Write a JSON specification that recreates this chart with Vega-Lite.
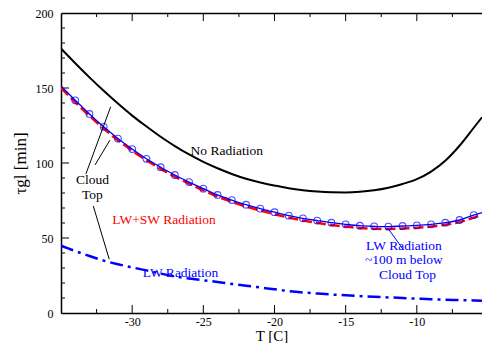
{
  "$schema": "https://vega.github.io/schema/vega-lite/v6.json",
  "autosize": {"type": "none"},
  "padding": {"left": 61, "top": 13, "right": 0, "bottom": 30},
  "width": 421,
  "height": 300,
  "background": "white",
  "config": {"view": {"stroke": null}, "font": "Liberation Serif", "axis": {"grid": false, "labelOverlap": false}},
  "datasets": {
    "curves": [
      {"s": "none", "T": -35, "v": 176.3}, {"s": "none", "T": -34, "v": 166.5}, {"s": "none", "T": -33, "v": 157.1}, {"s": "none", "T": -32, "v": 148.1}, {"s": "none", "T": -31, "v": 139.6}, {"s": "none", "T": -30, "v": 131.6}, {"s": "none", "T": -29, "v": 124.4}, {"s": "none", "T": -28, "v": 117.5}, {"s": "none", "T": -27, "v": 111.3}, {"s": "none", "T": -26, "v": 105.7}, {"s": "none", "T": -25, "v": 100.8}, {"s": "none", "T": -24, "v": 96.5}, {"s": "none", "T": -23, "v": 92.7}, {"s": "none", "T": -22, "v": 89.5}, {"s": "none", "T": -21, "v": 87.0}, {"s": "none", "T": -20, "v": 85.0}, {"s": "none", "T": -19, "v": 83.2}, {"s": "none", "T": -18, "v": 81.9}, {"s": "none", "T": -17, "v": 81.0}, {"s": "none", "T": -16, "v": 80.5}, {"s": "none", "T": -15, "v": 80.4}, {"s": "none", "T": -14, "v": 80.8}, {"s": "none", "T": -13, "v": 81.8}, {"s": "none", "T": -12, "v": 83.5}, {"s": "none", "T": -11, "v": 86.0}, {"s": "none", "T": -10, "v": 89.2}, {"s": "none", "T": -9, "v": 94.3}, {"s": "none", "T": -8, "v": 101.5}, {"s": "none", "T": -7, "v": 111.5}, {"s": "none", "T": -6, "v": 123.5}, {"s": "none", "T": -5.42, "v": 130.5},
      {"s": "lwsw", "T": -35, "v": 150.0}, {"s": "lwsw", "T": -34, "v": 140.5}, {"s": "lwsw", "T": -33, "v": 131.5}, {"s": "lwsw", "T": -32, "v": 123.0}, {"s": "lwsw", "T": -31, "v": 115.2}, {"s": "lwsw", "T": -30, "v": 108.2}, {"s": "lwsw", "T": -29, "v": 101.8}, {"s": "lwsw", "T": -28, "v": 96.1}, {"s": "lwsw", "T": -27, "v": 90.9}, {"s": "lwsw", "T": -26, "v": 86.2}, {"s": "lwsw", "T": -25, "v": 81.8}, {"s": "lwsw", "T": -24, "v": 77.6}, {"s": "lwsw", "T": -23, "v": 74.1}, {"s": "lwsw", "T": -22, "v": 71.0}, {"s": "lwsw", "T": -21, "v": 68.3}, {"s": "lwsw", "T": -20, "v": 65.9}, {"s": "lwsw", "T": -19, "v": 63.6}, {"s": "lwsw", "T": -18, "v": 61.7}, {"s": "lwsw", "T": -17, "v": 60.1}, {"s": "lwsw", "T": -16, "v": 58.7}, {"s": "lwsw", "T": -15, "v": 57.6}, {"s": "lwsw", "T": -14, "v": 56.7}, {"s": "lwsw", "T": -13, "v": 56.2}, {"s": "lwsw", "T": -12, "v": 56.0}, {"s": "lwsw", "T": -11, "v": 56.3}, {"s": "lwsw", "T": -10, "v": 56.8}, {"s": "lwsw", "T": -9, "v": 57.6}, {"s": "lwsw", "T": -8, "v": 58.8}, {"s": "lwsw", "T": -7, "v": 60.6}, {"s": "lwsw", "T": -6, "v": 63.6}, {"s": "lwsw", "T": -5.42, "v": 65.5},
      {"s": "below", "T": -35, "v": 151.3}, {"s": "below", "T": -34, "v": 141.8}, {"s": "below", "T": -33, "v": 132.7}, {"s": "below", "T": -32, "v": 124.1}, {"s": "below", "T": -31, "v": 116.3}, {"s": "below", "T": -30, "v": 109.3}, {"s": "below", "T": -29, "v": 102.8}, {"s": "below", "T": -28, "v": 97.2}, {"s": "below", "T": -27, "v": 92.0}, {"s": "below", "T": -26, "v": 87.3}, {"s": "below", "T": -25, "v": 82.9}, {"s": "below", "T": -24, "v": 78.7}, {"s": "below", "T": -23, "v": 75.3}, {"s": "below", "T": -22, "v": 72.2}, {"s": "below", "T": -21, "v": 69.6}, {"s": "below", "T": -20, "v": 67.2}, {"s": "below", "T": -19, "v": 64.9}, {"s": "below", "T": -18, "v": 63.1}, {"s": "below", "T": -17, "v": 61.6}, {"s": "below", "T": -16, "v": 60.2}, {"s": "below", "T": -15, "v": 59.1}, {"s": "below", "T": -14, "v": 58.2}, {"s": "below", "T": -13, "v": 57.8}, {"s": "below", "T": -12, "v": 57.6}, {"s": "below", "T": -11, "v": 58.0}, {"s": "below", "T": -10, "v": 58.4}, {"s": "below", "T": -9, "v": 59.1}, {"s": "below", "T": -8, "v": 60.2}, {"s": "below", "T": -7, "v": 62.0}, {"s": "below", "T": -6, "v": 65.3}, {"s": "below", "T": -5.42, "v": 67.0},
      {"s": "lw", "T": -35, "v": 44.9}, {"s": "lw", "T": -34, "v": 41.3}, {"s": "lw", "T": -33, "v": 38.0}, {"s": "lw", "T": -32, "v": 34.9}, {"s": "lw", "T": -31, "v": 32.5}, {"s": "lw", "T": -30, "v": 30.4}, {"s": "lw", "T": -29, "v": 28.4}, {"s": "lw", "T": -28, "v": 26.3}, {"s": "lw", "T": -27, "v": 24.4}, {"s": "lw", "T": -26, "v": 23.0}, {"s": "lw", "T": -25, "v": 21.8}, {"s": "lw", "T": -24, "v": 20.7}, {"s": "lw", "T": -23, "v": 19.4}, {"s": "lw", "T": -22, "v": 18.2}, {"s": "lw", "T": -21, "v": 17.0}, {"s": "lw", "T": -20, "v": 15.8}, {"s": "lw", "T": -19, "v": 14.6}, {"s": "lw", "T": -18, "v": 13.7}, {"s": "lw", "T": -17, "v": 13.0}, {"s": "lw", "T": -16, "v": 12.3}, {"s": "lw", "T": -15, "v": 11.8}, {"s": "lw", "T": -14, "v": 11.3}, {"s": "lw", "T": -13, "v": 10.8}, {"s": "lw", "T": -12, "v": 10.4}, {"s": "lw", "T": -11, "v": 10.0}, {"s": "lw", "T": -10, "v": 9.6}, {"s": "lw", "T": -9, "v": 9.2}, {"s": "lw", "T": -8, "v": 8.9}, {"s": "lw", "T": -7, "v": 8.6}, {"s": "lw", "T": -6, "v": 8.4}, {"s": "lw", "T": -5.42, "v": 8.2}
    ],
    "xticks": [
      {"T": -32.5, "k": "minor"}, {"T": -30, "k": "major"}, {"T": -27.5, "k": "minor"}, {"T": -25, "k": "major"}, {"T": -22.5, "k": "minor"}, {"T": -20, "k": "major"}, {"T": -17.5, "k": "minor"}, {"T": -15, "k": "major"}, {"T": -12.5, "k": "minor"}, {"T": -10, "k": "major"}, {"T": -7.5, "k": "minor"}
    ],
    "yticks": [
      {"v": 10, "k": "minor"}, {"v": 20, "k": "minor"}, {"v": 30, "k": "minor"}, {"v": 40, "k": "minor"}, {"v": 50, "k": "major"},
      {"v": 60, "k": "minor"}, {"v": 70, "k": "minor"}, {"v": 80, "k": "minor"}, {"v": 90, "k": "minor"}, {"v": 100, "k": "major"},
      {"v": 110, "k": "minor"}, {"v": 120, "k": "minor"}, {"v": 130, "k": "minor"}, {"v": 140, "k": "minor"}, {"v": 150, "k": "major"},
      {"v": 160, "k": "minor"}, {"v": 170, "k": "minor"}, {"v": 180, "k": "minor"}, {"v": 190, "k": "minor"}
    ],
    "labels": [
      {"text": "No Radiation", "T": -23.35, "v": 105.3, "c": "black", "a": "center"},
      {"text": "LW+SW Radiation", "T": -27.77, "v": 59.1, "c": "red", "a": "left"},
      {"text": "LW Radiation", "T": -26.6, "v": 24.2, "c": "blue", "a": "left"},
      {"text": "Cloud", "T": -32.79, "v": 85.8, "c": "black", "a": "center"},
      {"text": "Top", "T": -32.79, "v": 75.8, "c": "black", "a": "center"},
      {"text": "LW Radiation", "T": -10.91, "v": 42.0, "c": "blue", "a": "left"},
      {"text": "~100 m below", "T": -10.91, "v": 32.7, "c": "blue", "a": "left"},
      {"text": "Cloud Top", "T": -10.65, "v": 22.7, "c": "blue", "a": "left"}
    ],
    "leaders": [
      {"T": -33.25, "v": 92.7, "T2": -31.51, "v2": 137.5, "c": "black"},
      {"T": -32.61, "v": 98.7, "T2": -31.56, "v2": 115.3, "c": "black"},
      {"T": -32.73, "v": 71.3, "T2": -31.61, "v2": 35.8, "c": "black"},
      {"T": -12.03, "v": 56.5, "T2": -10.93, "v2": 42.0, "c": "blue"}
    ]
  },
  "resolve": {"axis": {"x": "independent", "y": "independent"}},
  "layer": [
    {
      "data": {"name": "curves"},
      "transform": [{"filter": "datum.s === 'none'"}],
      "mark": {"type": "line", "color": "black", "strokeWidth": 2, "clip": true, "interpolate": "monotone"},
      "encoding": {
        "x": {"field": "T", "type": "quantitative", "scale": {"domain": [-35, -5.42], "nice": false, "zero": false},
          "axis": {"orient": "bottom", "title": "T [C]", "titleFontSize": 15, "titleFontWeight": "normal", "titleColor": "black", "titlePadding": 1,
            "values": [-30, -25, -20, -15, -10], "ticks": false,
            "labelExpr": "datum.value < 0 ? '-' + abs(datum.value) : datum.label",
            "labelFontSize": 12, "labelColor": "black", "labelPadding": 3, "labelFlush": false,
            "domainColor": "black", "domainWidth": 1.5}},
        "y": {"field": "v", "type": "quantitative", "scale": {"domain": [0, 200], "nice": false},
          "axis": {"orient": "left", "title": "τgl [min]", "titleFontSize": 17, "titleFontWeight": "normal", "titleColor": "black", "titlePadding": 6,
            "values": [0, 50, 100, 150, 200], "ticks": false,
            "labelFontSize": 12, "labelColor": "black", "labelPadding": 8, "labelFlush": false,
            "domainColor": "black", "domainWidth": 1.5}}
      }
    },
    {
      "data": {"name": "curves"},
      "transform": [{"filter": "datum.s === 'none'"}],
      "mark": {"type": "line", "opacity": 0, "clip": true},
      "encoding": {
        "x": {"field": "T", "type": "quantitative",
          "axis": {"orient": "top", "title": null, "labels": false, "ticks": false, "domain": true, "domainColor": "black", "domainWidth": 1.5}},
        "y": {"field": "v", "type": "quantitative", "axis": null}
      }
    },
    {
      "data": {"name": "xticks"},
      "mark": {"type": "tick", "orient": "vertical", "color": "black", "thickness": 1, "clip": true, "opacity": 1},
      "encoding": {
        "x": {"field": "T", "type": "quantitative", "axis": null},
        "y": {"datum": 0, "type": "quantitative", "axis": null},
        "size": {"field": "k", "type": "nominal", "scale": {"domain": ["major", "minor"], "range": [16, 8]}, "legend": null}
      }
    },
    {
      "data": {"name": "xticks"},
      "mark": {"type": "tick", "orient": "vertical", "color": "black", "thickness": 1, "clip": true, "opacity": 1},
      "encoding": {
        "x": {"field": "T", "type": "quantitative", "axis": null},
        "y": {"datum": 200, "type": "quantitative", "axis": null},
        "size": {"field": "k", "type": "nominal", "scale": {"domain": ["major", "minor"], "range": [16, 8]}, "legend": null}
      }
    },
    {
      "data": {"name": "yticks"},
      "mark": {"type": "tick", "orient": "horizontal", "color": "black", "thickness": 1, "clip": true, "opacity": 1},
      "encoding": {
        "y": {"field": "v", "type": "quantitative", "axis": null},
        "x": {"datum": -35, "type": "quantitative", "axis": null},
        "size": {"field": "k", "type": "nominal", "scale": {"domain": ["major", "minor"], "range": [16, 8]}, "legend": null}
      }
    },
    {
      "data": {"name": "curves"},
      "transform": [{"filter": "datum.s === 'lwsw'"}],
      "mark": {"type": "line", "color": "red", "strokeWidth": 2.5, "strokeDash": [10, 4], "clip": true, "interpolate": "monotone"},
      "encoding": {
        "x": {"field": "T", "type": "quantitative", "axis": null},
        "y": {"field": "v", "type": "quantitative", "axis": null}
      }
    },
    {
      "data": {"name": "curves"},
      "transform": [{"filter": "datum.s === 'below'"}],
      "mark": {"type": "line", "color": "blue", "strokeWidth": 1.3, "clip": true, "interpolate": "monotone"},
      "encoding": {
        "x": {"field": "T", "type": "quantitative", "axis": null},
        "y": {"field": "v", "type": "quantitative", "axis": null}
      }
    },
    {
      "data": {"name": "curves"},
      "transform": [{"filter": "datum.s === 'below' && datum.T >= -34 && datum.T <= -6"}],
      "mark": {"type": "point", "shape": "circle", "color": "blue", "filled": false, "size": 45, "strokeWidth": 1.1, "clip": true},
      "encoding": {
        "x": {"field": "T", "type": "quantitative", "axis": null},
        "y": {"field": "v", "type": "quantitative", "axis": null}
      }
    },
    {
      "data": {"name": "curves"},
      "transform": [{"filter": "datum.s === 'lw'"}],
      "mark": {"type": "line", "color": "blue", "strokeWidth": 2.5, "strokeDash": [13, 5, 3, 5], "clip": true, "interpolate": "monotone"},
      "encoding": {
        "x": {"field": "T", "type": "quantitative", "axis": null},
        "y": {"field": "v", "type": "quantitative", "axis": null}
      }
    },
    {
      "data": {"name": "leaders"},
      "mark": {"type": "rule", "strokeWidth": 1},
      "encoding": {
        "x": {"field": "T", "type": "quantitative", "axis": null},
        "y": {"field": "v", "type": "quantitative", "axis": null},
        "x2": {"field": "T2"},
        "y2": {"field": "v2"},
        "color": {"field": "c", "type": "nominal", "scale": null}
      }
    },
    {
      "data": {"name": "labels"},
      "mark": {"type": "text", "fontSize": 13.5, "font": "Liberation Serif", "baseline": "alphabetic"},
      "encoding": {
        "x": {"field": "T", "type": "quantitative", "axis": null},
        "y": {"field": "v", "type": "quantitative", "axis": null},
        "text": {"field": "text"},
        "align": {"field": "a", "type": "nominal", "scale": null},
        "color": {"field": "c", "type": "nominal", "scale": null}
      }
    }
  ]
}
